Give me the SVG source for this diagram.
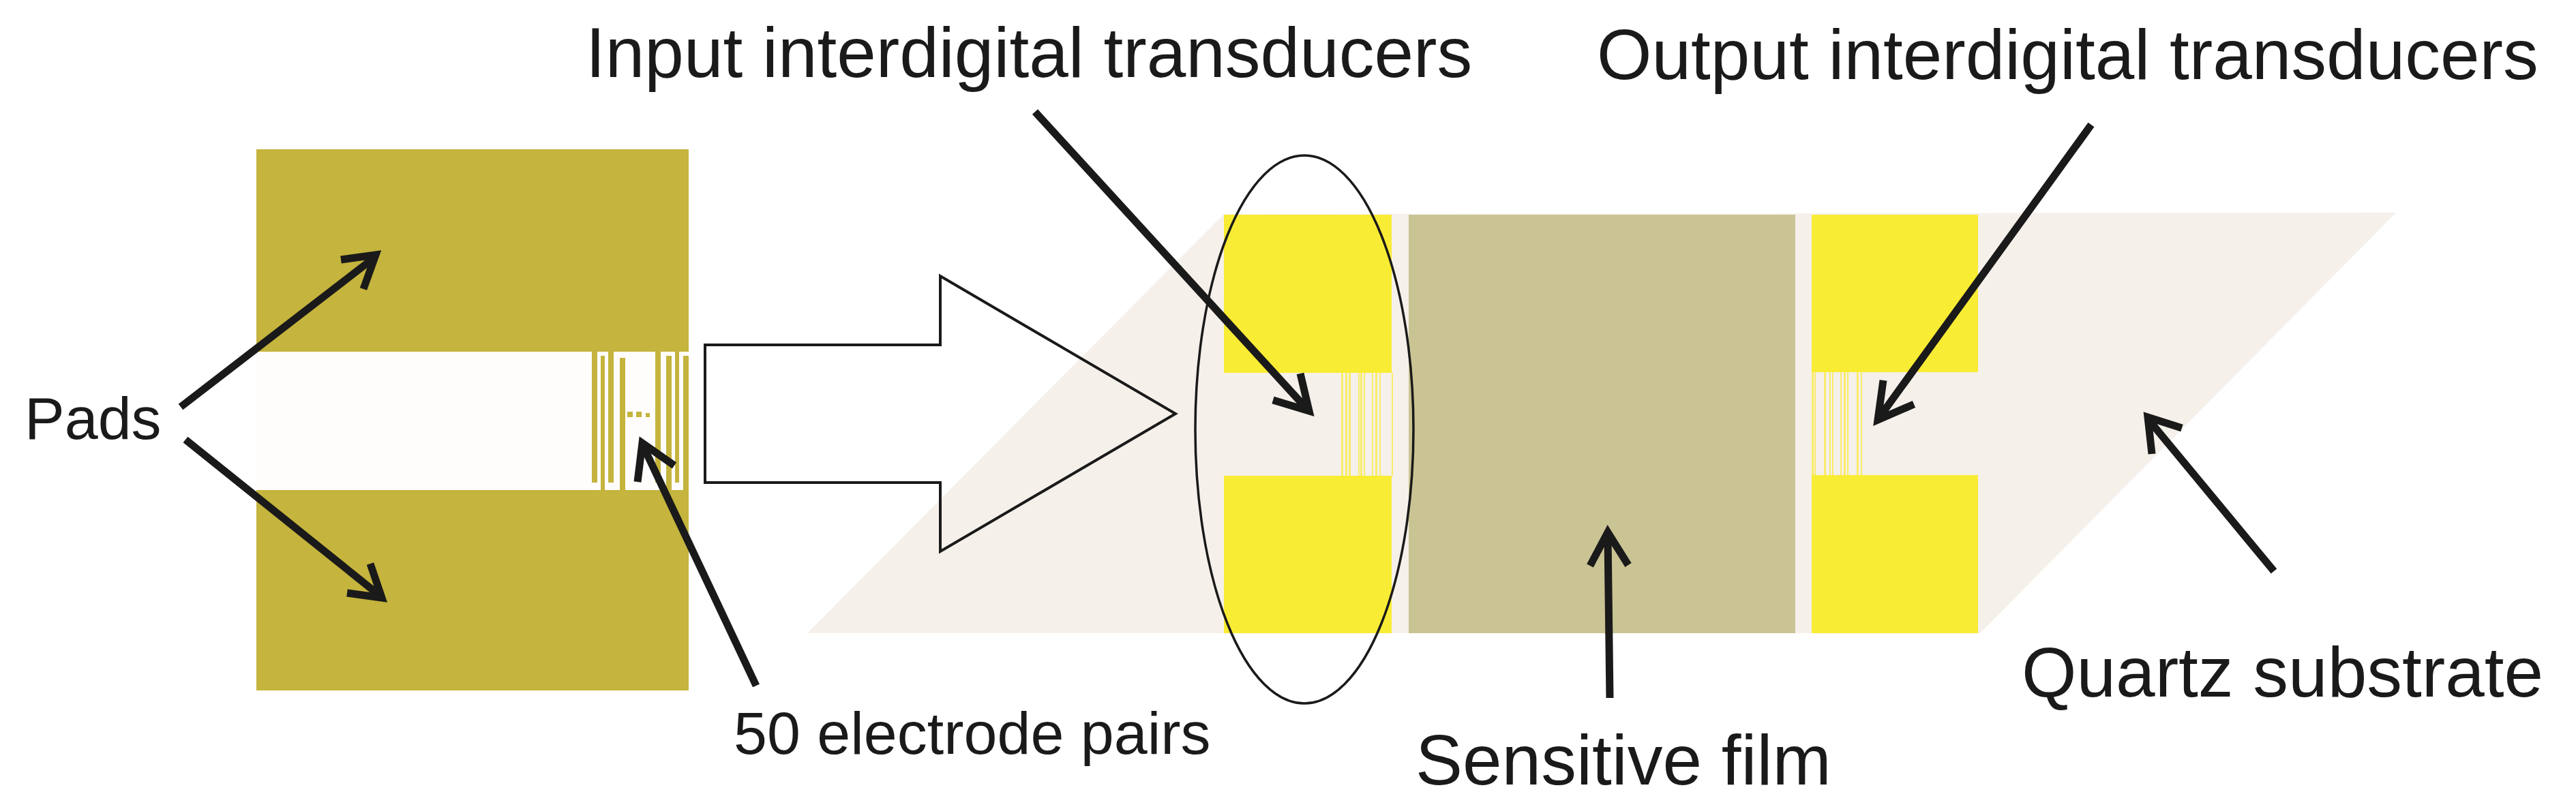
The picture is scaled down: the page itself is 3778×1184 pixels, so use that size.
<svg xmlns="http://www.w3.org/2000/svg" width="3778" height="1184" viewBox="0 0 3778 1184">
<style>
.t{font-family:"Liberation Sans",Arial,sans-serif;fill:#1a1a1a}
.big{font-size:103.5px}
.small{font-size:88px}
.gold{fill:#c5b43d}
.yel{fill:#f9ec34}
.fy{fill:#f9ec6a}
.arr{fill:none;stroke:#1a1a1a;stroke-width:11;stroke-linejoin:miter;stroke-miterlimit:10}
</style>
<rect width="3778" height="1184" fill="#fff"/>
<g id="chip">
<rect class="gold" x="376" y="219" width="634" height="794"/>
<rect x="376" y="516" width="634" height="203" fill="#fffdfb"/>
<g class="gold">
<rect x="868" y="516" width="8" height="192"/><rect x="881" y="522" width="6" height="197"/>
<rect x="892" y="516" width="8" height="192"/><rect x="909" y="525" width="8" height="194"/>
<rect x="961" y="516" width="8" height="192"/><rect x="977" y="522" width="8" height="197"/>
<rect x="990" y="516" width="6" height="192"/><rect x="1002" y="522" width="8" height="197"/>
<rect x="920" y="604" width="8" height="8"/><rect x="933" y="604" width="8" height="8"/><rect x="947" y="606" width="6" height="6"/>
</g>
</g>
<g id="substrate"><polygon points="1184,929 1795,314 3514,312 2904,929" fill="#f5f0ea"/></g>
<g id="input-idt" class="yel">
<rect x="1795" y="315" width="246" height="232"/>
<rect x="1795" y="698" width="246" height="231"/>
<g class="fy">
<rect x="1967" y="547" width="3" height="151"/><rect x="1973" y="547" width="3" height="151"/><rect x="1978" y="547" width="3" height="151"/>
<rect x="1992" y="547" width="2" height="151"/><rect x="1995" y="547" width="3" height="151"/><rect x="2000" y="547" width="2" height="151"/>
<rect x="2012" y="547" width="2" height="151"/><rect x="2017" y="547" width="3" height="151"/><rect x="2023" y="547" width="2" height="151"/>
<rect x="2041" y="547" width="2" height="151"/>
</g>
</g>
<g id="film"><rect x="2066" y="315" width="567" height="614" fill="#cac394"/></g>
<g id="output-idt" class="yel">
<rect x="2657" y="315" width="244" height="231"/>
<rect x="2657" y="697" width="244" height="232"/>
<g class="fy">
<rect x="2657" y="546" width="3" height="151"/><rect x="2661" y="546" width="2" height="151"/>
<rect x="2675" y="546" width="3" height="151"/><rect x="2683" y="546" width="2" height="151"/><rect x="2687" y="546" width="2" height="151"/>
<rect x="2699" y="546" width="2" height="151"/><rect x="2704" y="546" width="3" height="151"/><rect x="2709" y="546" width="2" height="151"/>
<rect x="2723" y="546" width="3" height="151"/><rect x="2729" y="546" width="2" height="151"/>
</g>
</g>
<g id="big-arrow"><polygon points="1034,506 1379,506 1379,405 1724,607 1379,809 1379,708 1034,708" fill="none" stroke="#1a1a1a" stroke-width="4"/></g>
<g id="ellipse"><ellipse cx="1913" cy="630" rx="160" ry="402" fill="none" stroke="#1a1a1a" stroke-width="3.5"/></g>
<g id="connectors">
<path class="arr" d="M265,597L549,378M500,381L551,374L533,424"/>
<path class="arr" d="M272,645L556,873M509,870L560,877L543,827"/>
<path class="arr" d="M1109,1006L945,658M935,707L942,650L989,683"/>
<path class="arr" d="M1518,164L1915,598M1907,548L1920,603L1867,587"/>
<path class="arr" d="M3067,183L2758,610M2762,558L2754,616L2807,593"/>
<path class="arr" d="M2361,1024L2358,787M2332,830L2358,781L2388,829"/>
<path class="arr" d="M3335,838L3153,618M3156,666L3150,612L3200,628"/>
</g>
<g id="labels">
<text class="t big" x="859" y="113">Input interdigital transducers</text>
<text class="t big" x="2342" y="116">Output interdigital transducers</text>
<text class="t small" x="36" y="644">Pads</text>
<text class="t small" x="1076" y="1106">50 electrode pairs</text>
<text class="t big" x="2076" y="1151">Sensitive film</text>
<text class="t big" x="2965" y="1022">Quartz substrate</text>
</g>
</svg>
